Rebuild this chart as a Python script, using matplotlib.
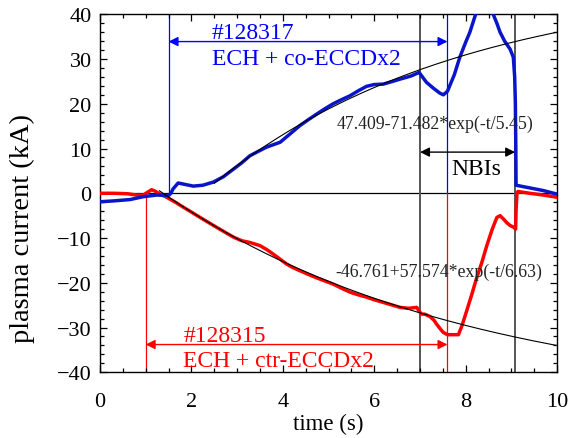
import numpy as np
import matplotlib
matplotlib.use("Agg")
import matplotlib.pyplot as plt
from matplotlib.ticker import MultipleLocator

plt.rcParams['font.family'] = ['Liberation Serif', 'DejaVu Serif']
plt.rcParams['mathtext.fontset'] = 'stix'

# ---- data ----
t_co = [0, 0.3, 0.66, 0.95, 1.24, 1.5, 1.55, 1.6, 1.71, 1.85, 2.04, 2.25, 2.48, 2.7,
        2.92, 3.1, 3.28, 3.45, 3.64, 3.94, 4.15, 4.37, 4.55, 4.74, 4.92, 5.10, 5.3,
        5.47, 5.65, 5.83, 6.0, 6.2, 6.4, 6.56, 6.8, 6.98, 7.14, 7.29, 7.43, 7.51,
        7.6, 7.75, 7.87, 8.0, 8.09, 8.2, 8.3, 8.42, 8.52, 8.6, 8.68, 8.75, 8.85,
        8.97, 9.04, 9.07, 9.085, 9.095, 9.1, 9.3, 9.5, 9.7, 9.85, 10.0]
i_co = [-1.9, -1.7, -1.4, -0.75, -0.4, -0.5, 0.0, 1.0, 2.3, 2.0, 1.6, 1.8, 2.5, 3.7,
        5.4, 6.8, 8.4, 9.3, 10.3, 11.4, 13.2, 15.1, 16.4, 17.7, 18.9, 20.0, 21.0,
        21.8, 22.9, 23.9, 24.3, 24.4, 25.0, 25.5, 26.2, 27.0, 24.8, 23.5, 22.4, 22.0,
        22.8, 26.5, 30.4, 33.8, 36.0, 39.5, 42.5, 44.0, 42.5, 40.0, 38.0, 36.0, 34.0,
        32.2, 30.4, 26.0, 20.0, 10.0, 1.8, 1.4, 1.0, 0.6, 0.2, -0.2]

t_ctr = [0, 0.3, 0.6, 0.8, 0.95, 1.05, 1.13, 1.2, 1.3, 1.46, 1.65, 1.82, 2.0, 2.19,
         2.37, 2.55, 2.75, 2.92, 3.1, 3.28, 3.5, 3.65, 3.79, 3.95, 4.08, 4.2, 4.37,
         4.55, 4.74, 4.92, 5.10, 5.3, 5.47, 5.65, 5.83, 6.0, 6.2, 6.4, 6.56, 6.75,
         6.93, 6.97, 7.03, 7.1, 7.21, 7.3, 7.36, 7.45, 7.51, 7.6, 7.7, 7.84, 7.92,
         8.01, 8.12, 8.23, 8.35, 8.46, 8.58, 8.68, 8.75, 8.82, 8.9, 8.97, 9.05, 9.09,
         9.1, 9.12, 9.14, 9.4, 9.7, 10.0]
i_ctr = [0.0, 0.0, -0.1, -0.4, -0.4, 0.3, 0.8, 0.5, -0.1, -0.9, -2.0, -3.1, -4.2, -5.4,
         -6.5, -7.6, -8.8, -9.8, -10.6, -11.0, -11.7, -12.6, -13.6, -14.8, -15.8, -16.5,
         -17.3, -18.1, -18.9, -19.6, -20.3, -21.3, -22.1, -22.7, -23.2, -23.8, -24.4,
         -25.0, -25.5, -25.7, -25.5, -26.2, -27.0, -27.0, -27.5, -28.3, -29.2, -30.4,
         -31.1, -31.6, -31.6, -31.6, -29.5, -26.6, -23.0, -19.2, -15.5, -11.7, -8.0,
         -5.4, -5.0, -5.7, -6.6, -7.2, -7.6, -8.0, -4.0, 0.0, 0.4, 0.0, -0.4, -0.9]

# fit parameters
fit_co = (47.409, -71.482, 5.45)
fit_ctr = (-46.761, 57.574, 6.63)
fit_co_start, fit_ctr_start = 2.5, 1.3

# timing markers
eccd_co = (1.5, 7.6)
eccd_ctr = (1.0, 7.6)
nbi = (7.0, 9.08)

xticks = [0, 2, 4, 6, 8, 10]
yticks = [-40, -30, -20, -10, 0, 10, 20, 30, 40]

BLUE = '#0000ff'
BLUE_D = '#0a14c8'
RED = '#ff0000'

fig = plt.figure(figsize=(5.68, 4.39), dpi=100)
ax = fig.add_axes([0.176, 0.1497, 0.805, 0.8155])

ax.set_xlim(0, 10)
ax.set_ylim(-40, 40)

# guide lines
ax.axhline(0, color='black', lw=0.9, zorder=1)
for x in nbi:
    ax.axvline(x, color='#555555', lw=1.4, zorder=1)
for x in eccd_co:
    ax.plot([x, x], [0, 40], color=BLUE, lw=0.9, zorder=1)
for x in eccd_ctr:
    ax.plot([x, x], [0, -40], color=RED, lw=0.9, zorder=1)

# data
ax.plot(t_ctr, i_ctr, color=RED, lw=2.5, zorder=3, solid_joinstyle='round')
ax.plot(t_co, i_co, color=BLUE_D, lw=2.5, zorder=4, solid_joinstyle='round')

# fits
tc = np.linspace(fit_co_start, 10, 200)
ax.plot(tc, fit_co[0] + fit_co[1] * np.exp(-tc / fit_co[2]), color='black', lw=0.8, zorder=5)
tr = np.linspace(fit_ctr_start, 10, 200)
ax.plot(tr, fit_ctr[0] + fit_ctr[1] * np.exp(-tr / fit_ctr[2]), color='black', lw=0.8, zorder=5)

# arrows
def darrow(x0, x1, y, color):
    ax.annotate('', xy=(x1, y), xytext=(x0, y),
                arrowprops=dict(arrowstyle='<|-|>', color=color, lw=1.0,
                                mutation_scale=14, shrinkA=0, shrinkB=0), zorder=6)

darrow(eccd_co[0], eccd_co[1], 33.9, BLUE)
darrow(eccd_ctr[0], eccd_ctr[1], -33.8, RED)
darrow(nbi[0], nbi[1], 9.2, 'black')

ax.text(2.44, 34.6, '#128317', color=BLUE, fontsize=17, va='baseline', ha='left', zorder=6)
ax.text(2.44, 28.9, 'ECH + co-ECCDx2', color=BLUE, fontsize=17, va='baseline', ha='left', zorder=6)
ax.text(1.82, -33.0, '#128315', color=RED, fontsize=17, va='baseline', ha='left', zorder=6)
ax.text(1.82, -38.5, 'ECH + ctr-ECCDx2', color=RED, fontsize=17, va='baseline', ha='left', zorder=6)
ax.text(5.18, 14.7, '47.409-71.482*exp(-t/5.45)', color='#222222', fontsize=12.8,
        va='baseline', ha='left', zorder=6)
ax.text(5.14, -18.4, '-46.761+57.574*exp(-t/6.63)', color='#222222', fontsize=12.8,
        va='baseline', ha='left', zorder=6)
ax.text(7.69, 4.3, 'NBIs', color='black', fontsize=17, va='baseline', ha='left', zorder=6)

ax.set_xticks(xticks)
ax.set_yticks(yticks)
ax.xaxis.set_minor_locator(MultipleLocator(0.5))
ax.yaxis.set_minor_locator(MultipleLocator(2))
ax.tick_params(which='both', direction='in', top=True, right=True, labelsize=16, width=0.9)
ax.tick_params(which='major', length=5)
ax.tick_params(axis='x', which='major', pad=14)
ax.tick_params(axis='y', which='major', pad=6)
ax.tick_params(which='minor', length=3)
for s in ax.spines.values():
    s.set_linewidth(1.0)

ax.text(0.499, -0.143, 'time (s)', transform=ax.transAxes, fontsize=16.5,
        ha='center', va='center')
ax.text(-0.17, 0.405, 'plasma current (kA)', transform=ax.transAxes, fontsize=20.5,
        rotation=90, ha='center', va='center')

fig.savefig('out.png', dpi=100)
